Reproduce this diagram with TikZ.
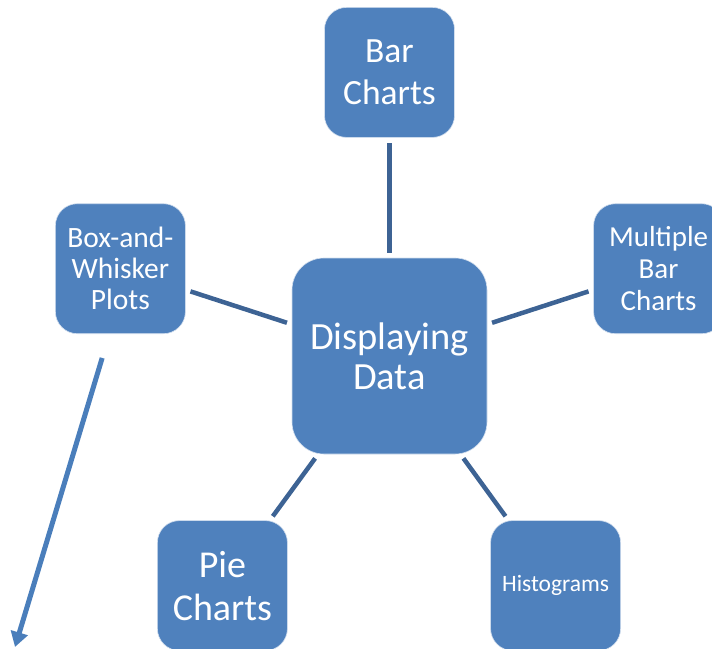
\documentclass[tikz,border=0pt]{standalone}
\usepackage{fontspec}
\setmainfont{Carlito}
\usetikzlibrary{arrows.meta, positioning}

\definecolor{boxblue}{HTML}{4F81BD}
\definecolor{linkblue}{HTML}{3D6394}
\definecolor{arrowblue}{HTML}{4A7EBB}

\begin{document}
\begin{tikzpicture}[x=1pt,y=-1pt,>={Triangle[length=15pt,width=17pt]}]

	\tikzset{topic/.style={rectangle, rounded corners=22pt,
			fill=boxblue, draw=white!75!boxblue, line width=0.6pt,
			text=white, align=center, inner sep=0pt,
			minimum width=130pt, minimum height=130pt},
		hub/.style={topic, rounded corners=32pt,
			minimum width=195pt, minimum height=196pt},
		link/.style={draw=linkblue, line width=4.5pt,
			shorten <=5pt, shorten >=5pt}}

	\clip (0,0) rectangle (712,648);

	\node[hub, font=\fontsize{38.5}{40}\selectfont] (data) at (389.5,356)
		{Displaying\\Data};
	\node[topic, font=\fontsize{35.5}{42}\selectfont,
		above=120pt of data] (bar) {Bar\\Charts};
	\node[topic, font=\fontsize{29.5}{31}\selectfont,
		above left=22pt and 106pt of data.west] (whisker)
		{Box-and-\\Whisker\\Plots};
	\node[topic, font=\fontsize{29}{32}\selectfont,
		above right=22pt and 106pt of data.east] (multi)
		{Multiple\\Bar\\Charts};
	\node[topic, font=\fontsize{38}{43}\selectfont,
		below left=66pt and 4pt of data] (pie) {Pie\\Charts};
	\node[topic, font=\fontsize{23.5}{28}\selectfont,
		below right=66pt and 3pt of data] (histo) {Histograms};

	\coordinate (tip) at (15,647);

	\draw[link]
	(data) edge (bar)
	(data) edge (whisker)
	(data) edge (multi)
	(data) edge (pie)
	(data) edge (histo);

	\draw[->, draw=arrowblue, fill=arrowblue, line width=5pt,
		shorten <=25pt] ([xshift=-11pt]whisker.south) -- (tip);

\end{tikzpicture}
\end{document}
